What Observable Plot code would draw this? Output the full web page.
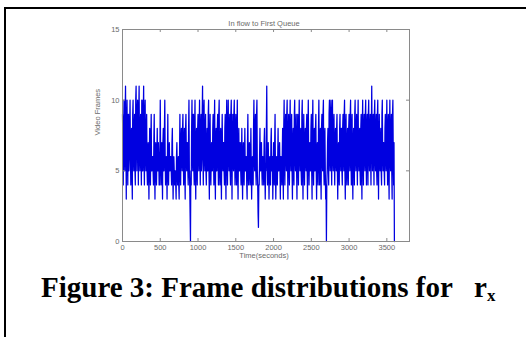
<!DOCTYPE html>
<html>
<head>
<meta charset="utf-8">
<script src="https://cdn.jsdelivr.net/npm/d3@7"></script>
<script src="https://cdn.jsdelivr.net/npm/@observablehq/plot@0.6"></script>
<style>
  html, body { margin: 0; padding: 0; background: #fff; }
  #page { position: relative; width: 526px; height: 337px; overflow: hidden; background: #fff; }
  #topline { position: absolute; left: 4px; top: 7px; width: 522px; height: 2px; background: #000; }
  #leftline { position: absolute; left: 4px; top: 7px; width: 2px; height: 330px; background: #000; }
  #chart { position: absolute; left: 0; top: 0; }
  #caption { position: absolute; left: 41px; top: 270px; white-space: nowrap;
    font-family: "Liberation Serif", "Times New Roman", serif; font-weight: bold; font-size: 29px; line-height: 34px; color: #000; }
  #caption sub { font-size: 17px; vertical-align: -4px; }
</style>
</head>
<body>
<div id="page">
  <div id="topline"></div>
  <div id="leftline"></div>
  <div id="chart"></div>
  <div id="caption"></div>
</div>
<script>
// ---- data (one sample every 5 seconds, 0..3600 s) ----
const chartTitle = "In flow to First Queue";
const xLabel = "Time(seconds)";
const yLabel = "Video Frames";
const captionText = "Figure 3: Frame distributions for \u00a0 r";
const captionSub = "x";
const xTicks = [0, 500, 1000, 1500, 2000, 2500, 3000, 3500];
const yTicks = [0, 5, 10, 15];
const sampleStep = 5; // seconds between samples
const frames = [
  9,7,4,8,10,6,5,9,11,7,3,8,10,6,4,9,9,5,6,8,
  10,6,4,7,8,5,3,9,10,6,5,8,9,5,4,10,11,7,5,9,
  10,7,4,9,11,6,5,8,9,6,4,10,10,5,5,9,11,6,4,9,
  10,6,5,8,9,5,4,6,7,5,3,6,8,5,4,7,9,5,5,6,
  6,5,4,7,9,5,3,6,7,5,4,6,8,5,5,7,6,4,4,6,
  10,6,4,6,7,5,3,7,8,5,5,8,10,6,4,5,6,5,3,6,
  9,5,4,6,7,5,5,6,6,5,4,7,8,5,3,5,6,5,4,5,
  5,4,3,6,7,5,4,5,6,4,3,6,9,5,4,7,8,6,5,8,
  9,6,4,7,8,5,3,8,9,6,5,7,7,5,4,8,10,5,4,2,
  0,5,4,8,10,6,5,9,9,5,4,8,10,5,3,7,8,5,4,8,
  9,6,5,8,10,6,4,8,9,5,6,9,11,6,4,9,10,6,5,8,
  9,5,4,7,8,5,5,9,10,5,3,7,9,5,4,6,7,5,5,8,
  9,6,4,8,10,5,3,7,8,5,5,8,9,6,4,9,10,5,4,7,
  8,5,3,7,9,6,5,7,7,5,4,8,9,5,3,8,10,6,4,8,
  10,6,5,8,9,5,4,9,10,6,3,7,9,6,5,9,10,6,4,8,
  9,5,4,8,10,5,3,6,8,5,5,7,7,5,4,6,8,5,3,6,
  7,5,4,6,8,5,5,6,6,4,3,7,9,5,4,6,7,5,4,6,
  8,5,3,5,6,5,4,8,10,6,5,8,9,5,4,9,10,5,4,2,
  1,4,4,6,8,5,5,7,7,5,4,6,6,5,4,7,8,5,3,5,
  5,8,11,6,4,6,7,5,3,5,6,5,4,7,8,5,5,6,3,5,
  7,5,4,7,9,5,3,5,6,5,4,6,8,5,5,6,7,5,3,6,
  6,5,4,6,8,5,3,8,10,6,4,8,9,6,5,9,10,6,3,7,
  9,6,4,8,10,6,5,8,9,5,3,7,8,5,4,9,10,6,5,8,
  9,5,3,7,9,6,4,8,10,6,5,7,8,5,4,9,10,5,3,7,
  9,6,4,7,8,6,5,8,9,5,3,8,10,6,4,6,7,5,5,8,
  9,5,3,8,10,6,4,7,8,5,5,8,9,5,3,6,7,5,4,8,
  10,6,4,7,8,5,3,8,9,6,5,9,10,5,4,7,8,5,3,4,
  0,4,5,7,8,6,4,9,10,6,5,9,10,6,4,9,10,6,5,8,
  9,6,4,7,8,6,5,8,9,5,3,6,7,5,4,8,9,6,5,8,
  8,5,4,8,9,6,5,9,10,5,3,8,9,5,4,7,8,5,4,8,
  9,6,5,9,10,6,4,8,9,5,3,7,8,6,4,9,10,6,5,8,
  9,6,4,8,10,6,5,7,8,5,4,8,9,5,3,8,10,6,4,8,
  9,6,5,9,10,6,4,8,9,6,4,9,10,6,5,8,9,6,4,8,
  11,7,5,8,9,6,4,9,10,6,5,8,9,5,4,9,10,6,3,7,
  9,6,5,7,8,5,4,9,10,6,5,7,7,5,4,8,9,6,5,8,
  10,6,4,8,9,5,3,8,10,6,5,8,9,5,3,9,10,6,4,7,
  0
];
const xDomain = [0, 3800];
const yDomain = [0, 15];

// ---- chart ----
const table = frames.map((v, i) => ({t: i * sampleStep, v}));
const W = 526, H = 270;
const mL = 122, mR = 117, mT = 29, mB = 29;
const fw = W - mL - mR, fh = H - mT - mB;
const grey = "#6a6a6a";
const tick = 3;

const plot = Plot.plot({
  width: W, height: H,
  marginLeft: mL, marginRight: mR, marginTop: mT, marginBottom: mB,
  style: {fontFamily: "'Liberation Sans', Arial, sans-serif", fontSize: "7.5px", color: grey, background: "transparent", overflow: "visible"},
  x: {domain: xDomain},
  y: {domain: yDomain},
  marks: [
    Plot.lineY(table, {x: "t", y: "v", stroke: "#0000e0", strokeWidth: 1.25}),
    Plot.frame({stroke: "#8a8a8a", strokeWidth: 1}),
    Plot.tickX(xTicks, {x: d => d, insetTop: fh - tick, stroke: "#8a8a8a"}),
    Plot.tickX(xTicks, {x: d => d, insetBottom: fh - tick, stroke: "#8a8a8a"}),
    Plot.tickY(yTicks, {y: d => d, insetRight: fw - tick, stroke: "#8a8a8a"}),
    Plot.tickY(yTicks, {y: d => d, insetLeft: fw - tick, stroke: "#8a8a8a"}),
    Plot.axisX({ticks: xTicks, tickSize: 0, tickPadding: 3, label: null, tickFormat: d => String(d)}),
    Plot.axisY({ticks: yTicks, tickSize: 0, tickPadding: 3, label: null, tickFormat: d => String(d)}),
    Plot.text([chartTitle], {frameAnchor: "top", dy: -9, dx: -2, fill: grey, fontSize: 7.5}),
    Plot.text([xLabel], {frameAnchor: "bottom", dy: 16, dx: -2, fill: grey, fontSize: 7.5}),
    Plot.text([yLabel], {frameAnchor: "left", dx: -25, rotate: -90, fill: grey, fontSize: 7.5})
  ]
});
document.getElementById("chart").appendChild(plot);
const cap = document.getElementById("caption");
cap.appendChild(document.createTextNode(captionText));
const sub = document.createElement("sub");
sub.textContent = captionSub;
cap.appendChild(sub);
</script>
</body>
</html>
